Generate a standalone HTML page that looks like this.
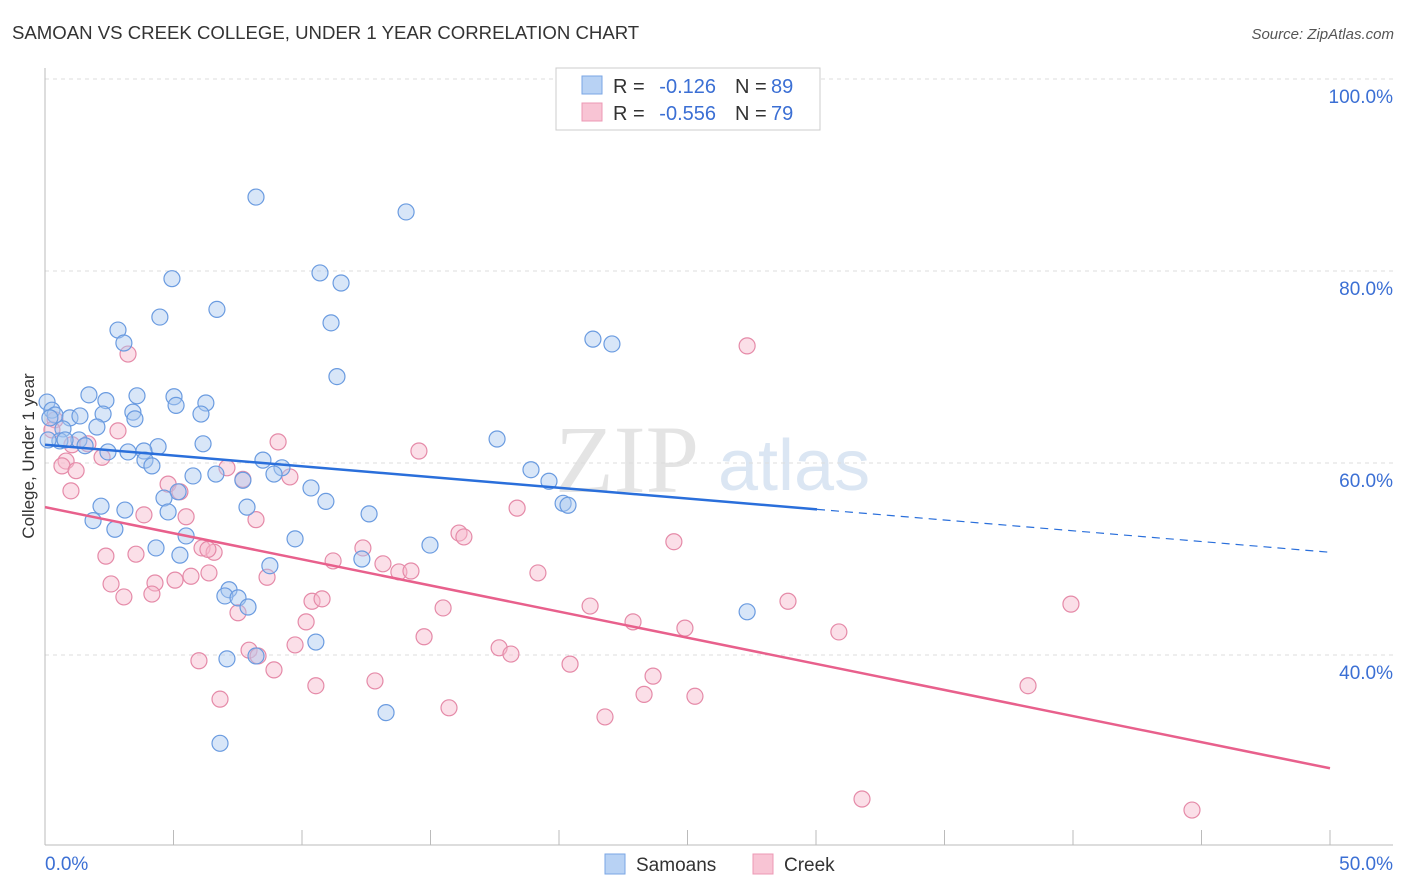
<!DOCTYPE html>
<html><head><meta charset="utf-8"><style>
body{margin:0;background:#fff;font-family:"Liberation Sans",sans-serif;}
</style></head><body>
<svg id="chart" width="1406" height="892" xmlns="http://www.w3.org/2000/svg" style="display:block">
<text x="12" y="39" font-size="18.6" fill="#333">SAMOAN VS CREEK COLLEGE, UNDER 1 YEAR CORRELATION CHART</text>
<text x="1394" y="39" font-size="15" fill="#555" text-anchor="end" font-style="italic">Source: ZipAtlas.com</text>
<text x="555" y="492" font-size="96" fill="#e4e4e4" font-family="Liberation Serif,serif">ZIP</text>
<text x="718" y="490" font-size="72" fill="#dbe6f3">atlas</text>
<g id="grid"></g>
<g id="axes"></g>
<g id="pts"></g>
<g id="trends"></g>
<text transform="translate(34,456) rotate(-90)" font-size="17" fill="#333" text-anchor="middle">College, Under 1 year</text>
<g>
<rect x="556" y="68" width="264" height="62" fill="#fff" stroke="#ccc"/>
<rect x="582" y="76" width="20" height="18" fill="#b8d2f4" stroke="#7aa6e4"/>
<rect x="582" y="103" width="20" height="18" fill="#f8c4d4" stroke="#ec98b4"/>
<text x="613" y="93" font-size="20" fill="#333">R =</text>
<text x="716" y="93" font-size="20" fill="#3b6fd4" text-anchor="end">-0.126</text>
<text x="735" y="93" font-size="20" fill="#333">N =</text>
<text x="771" y="93" font-size="20" fill="#3b6fd4">89</text>
<text x="613" y="120" font-size="20" fill="#333">R =</text>
<text x="716" y="120" font-size="20" fill="#3b6fd4" text-anchor="end">-0.556</text>
<text x="735" y="120" font-size="20" fill="#333">N =</text>
<text x="771" y="120" font-size="20" fill="#3b6fd4">79</text>
</g>
<g>
<rect x="605" y="854" width="20" height="20" fill="#b8d2f4" stroke="#7aa6e4"/>
<text x="636" y="871" font-size="19" fill="#333">Samoans</text>
<rect x="753" y="854" width="20" height="20" fill="#f8c4d4" stroke="#ec98b4"/>
<text x="784" y="871" font-size="19" fill="#333">Creek</text>
</g>
</svg>
<script>
const xTicks=[0,5,10,15,20,25,30,35,40,45,50];
const yTicks=[40,60,80,100];
const blueX=[8.21,14.05,4.94,10.7,11.52,4.47,6.69,11.13,2.84,3.07,21.32,22.06,11.36,1.71,3.58,2.37,5.02,6.26,0.08,0.27,0.39,0.97,2.26,3.42,5.1,6.07,3.5,0.7,2.02,1.32,0.58,1.56,2.45,3.23,4.4,3.85,6.15,3.89,4.16,8.48,9.22,6.65,5.76,7.7,8.91,17.59,18.91,19.61,10.35,10.93,5.18,4.63,4.79,2.18,3.11,7.86,12.61,20.16,20.35,1.87,2.72,5.49,4.32,5.25,9.73,14.98,12.33,8.75,7.16,7.0,7.51,7.9,8.21,10.54,7.08,27.32,13.27,6.81,0.19,0.12,0.78,1.36];
const blueY=[87.7,86.15,79.2,79.8,78.75,75.2,76.0,74.6,73.85,72.5,72.9,72.4,69.0,67.1,67.0,66.5,66.9,66.25,66.35,65.5,65.0,64.7,65.1,65.3,66.0,65.1,64.6,63.55,63.75,62.4,62.3,61.8,61.15,61.15,61.7,61.25,62.0,60.3,59.7,60.3,59.5,58.85,58.65,58.2,58.85,62.5,59.3,58.1,57.4,56.0,57.0,56.35,54.9,55.5,55.1,55.4,54.7,55.8,55.6,54.0,53.1,52.4,51.15,50.4,52.1,51.45,50.0,49.3,46.8,46.15,45.95,45.0,39.9,41.35,39.6,44.5,34.0,30.8,64.7,62.4,62.4,64.9];
const pinkX=[3.23,27.32,0.39,0.27,2.84,1.05,1.67,2.22,0.82,0.66,1.21,9.07,14.55,7.08,7.7,9.53,1.01,4.79,5.25,3.85,5.49,8.21,18.37,16.11,16.3,12.37,24.47,2.37,3.54,6.11,6.58,11.21,13.15,4.28,5.06,5.68,6.38,8.64,13.77,14.24,19.18,2.57,3.07,4.16,10.39,10.78,21.21,28.91,39.92,7.51,15.49,10.16,22.88,24.9,30.89,14.75,9.73,17.67,18.13,7.94,8.29,5.99,20.43,8.91,23.66,12.84,10.54,23.31,25.29,6.81,15.72,21.79,38.25,31.79,44.63,6.34];
const pinkY=[71.35,72.2,64.5,63.45,63.35,61.9,62.0,60.6,60.2,59.7,59.2,62.2,61.25,59.5,58.3,58.55,57.1,57.8,57.0,54.6,54.4,54.1,55.3,52.7,52.3,51.15,51.8,50.3,50.5,51.15,50.7,49.8,49.5,47.5,47.8,48.2,48.55,48.1,48.65,48.75,48.55,47.4,46.05,46.35,45.6,45.85,45.1,45.6,45.3,44.4,44.9,43.45,43.45,42.8,42.4,41.9,41.05,40.75,40.1,40.5,39.9,39.4,39.05,38.45,37.8,37.3,36.8,35.9,35.7,35.4,34.5,33.55,36.8,25.0,23.85,51.0];
const blueTrend=[61.9,50.7];
const pinkTrend=[55.4,28.2];
const blueSolidEnd=[30.04];
const NS='http://www.w3.org/2000/svg';
const sx=v=>45+v*25.7, sy=v=>79+(100-v)*9.6;
function mk(tag,attrs,parent){const e=document.createElementNS(NS,tag);for(const k in attrs)e.setAttribute(k,attrs[k]);parent.appendChild(e);return e;}
const grid=document.getElementById('grid'),axes=document.getElementById('axes'),pts=document.getElementById('pts'),tr=document.getElementById('trends');
yTicks.forEach(t=>{
 const l=mk('line',{x1:45,x2:1393,y1:sy(t),y2:sy(t),stroke:'#ddd','stroke-dasharray':'4,4'},grid);
 
 
 const tx=mk('text',{x:1393,y:sy(t)+24,'font-size':19,fill:'#3b6fd4','text-anchor':'end'},grid);
 tx.textContent=t.toFixed(1)+'%';
 
 
});
const ya=mk('line',{x1:45,x2:45,y1:68,y2:845,stroke:'#bbb'},axes);


const xa=mk('line',{x1:45,x2:1393,y1:845,y2:845,stroke:'#bbb'},axes);


xTicks.forEach(t=>{
 const l=mk('line',{x1:sx(t),x2:sx(t),y1:830,y2:845,stroke:'#bbb'},axes);
 
 
});
[[0,'start'],[50,'end']].forEach(([t,a])=>{
 const tx=mk('text',{x:t===0?45:1393,y:870,'font-size':19,fill:'#3b6fd4','text-anchor':a},axes);
 tx.textContent=t.toFixed(1)+'%';
 
 
});
function dots(X,Y,fill,stroke,name){X.forEach((x,i)=>{
 const c=mk('circle',{cx:sx(x),cy:sy(Y[i]),r:8,fill:fill,'fill-opacity':0.45,stroke:stroke,'stroke-width':1.2},pts);
 
 
});}
dots(pinkX,pinkY,'#f6b8cc','#e58aa8','creek-point');
dots(blueX,blueY,'#a9c7f0','#6a9be0','samoan-point');
const bAt=x=>blueTrend[0]+(blueTrend[1]-blueTrend[0])*x/50;
const b1=mk('line',{x1:sx(0),y1:sy(bAt(0)),x2:sx(blueSolidEnd[0]),y2:sy(bAt(blueSolidEnd[0])),stroke:'#2a6fdb','stroke-width':2.5},tr);


const b2=mk('line',{x1:sx(blueSolidEnd[0]),y1:sy(bAt(blueSolidEnd[0])),x2:sx(50),y2:sy(bAt(50)),stroke:'#2a6fdb','stroke-width':1.2,'stroke-dasharray':'8,6'},tr);


const p1=mk('line',{x1:sx(0),y1:sy(pinkTrend[0]),x2:sx(50),y2:sy(pinkTrend[1]),stroke:'#e8608c','stroke-width':2.5},tr);


</script>
</body></html>
